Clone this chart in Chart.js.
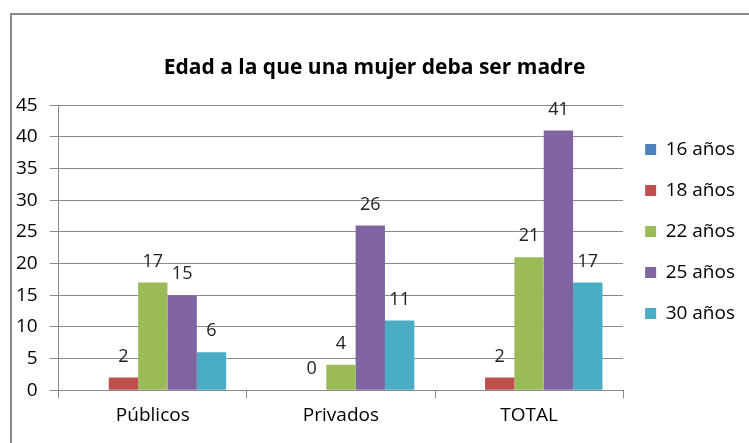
<!DOCTYPE html>
<html>
<head>
<meta charset="utf-8">
<script src="https://cdn.jsdelivr.net/npm/chart.js@4"></script>
<style>
  html, body { margin: 0; padding: 0; background: #fff; }
  #wrap { position: relative; width: 749px; height: 443px; overflow: hidden; }
  #frame { position: absolute; left: 10px; top: 13px; width: 900px; height: 600px;
           border-left: 2px solid #8a8a8a; border-top: 2px solid #8a8a8a; }
  canvas { position: absolute; left: 0; top: 0; }
</style>
</head>
<body>
<div id="wrap">
  <div id="frame"></div>
  <canvas id="edadChart" width="749" height="443"></canvas>
</div>
<script>
const categories = ["Públicos", "Privados", "TOTAL"];
const seriesNames = ["16 años", "18 años", "22 años", "25 años", "30 años"];
const v16 = [null, null, null];
const v18 = [2, 0, 2];
const v22 = [17, 4, 21];
const v25 = [15, 26, 41];
const v30 = [6, 11, 17];
const yTicks = [0, 5, 10, 15, 20, 25, 30, 35, 40, 45];

const colors = ["#4F81BD", "#C0504D", "#9BBB59", "#8064A2", "#4BACC6"];
const font = "Open Sans";

// draws the value above each bar
const barLabels = {
  id: "barLabels",
  afterDatasetsDraw(chart) {
    const ctx = chart.ctx;
    ctx.save();
    ctx.font = "18px " + font;
    ctx.fillStyle = "#222";
    ctx.textAlign = "center";
    ctx.textBaseline = "alphabetic";
    chart.data.datasets.forEach((ds, i) => {
      chart.getDatasetMeta(i).data.forEach((bar, j) => {
        const v = ds.data[j];
        if (v === null) return;
        ctx.fillText(v, bar.x, bar.y - 16);
      });
    });
    ctx.restore();
  }
};

const ctx = document.getElementById("edadChart").getContext("2d");
new Chart(ctx, {
  type: "bar",
  data: {
    labels: categories,
    datasets: [v16, v18, v22, v25, v30].map((d, i) => ({
      label: seriesNames[i],
      data: d,
      backgroundColor: colors[i],
      borderWidth: 0,
      barPercentage: 1,
      categoryPercentage: 0.78
    }))
  },
  options: {
    responsive: false,
    animation: false,
    layout: { padding: { left: 4, right: 4, top: 0, bottom: 10 } },
    plugins: {
      title: {
        display: true,
        text: "Edad a la que una mujer deba ser madre",
        color: "#000",
        font: { family: font, size: 21, weight: "bold" },
        padding: { top: 55, bottom: 25 }
      },
      legend: {
        position: "right",
        title: { display: true, text: " ", font: { size: 10 }, padding: { top: 9, bottom: 9 } },
        labels: {
          boxWidth: 11,
          boxHeight: 11,
          padding: 22,
          color: "#000",
          font: { family: font, size: 19 }
        }
      },
      tooltip: { enabled: false }
    },
    scales: {
      x: {
        grid: { drawOnChartArea: false, tickLength: 8, color: "#8a8a8a" },
        border: { color: "#8a8a8a" },
        ticks: { color: "#000", font: { family: font, size: 19 }, padding: 6 }
      },
      y: {
        min: 0,
        max: 45,
        afterBuildTicks(axis) { axis.ticks = yTicks.map(v => ({ value: v })); },
        grid: { color: "#8a8a8a", tickLength: 9 },
        border: { color: "#8a8a8a" },
        ticks: { color: "#000", font: { family: font, size: 19 }, padding: 12 }
      }
    }
  },
  plugins: [barLabels]
});
</script>
</body>
</html>
